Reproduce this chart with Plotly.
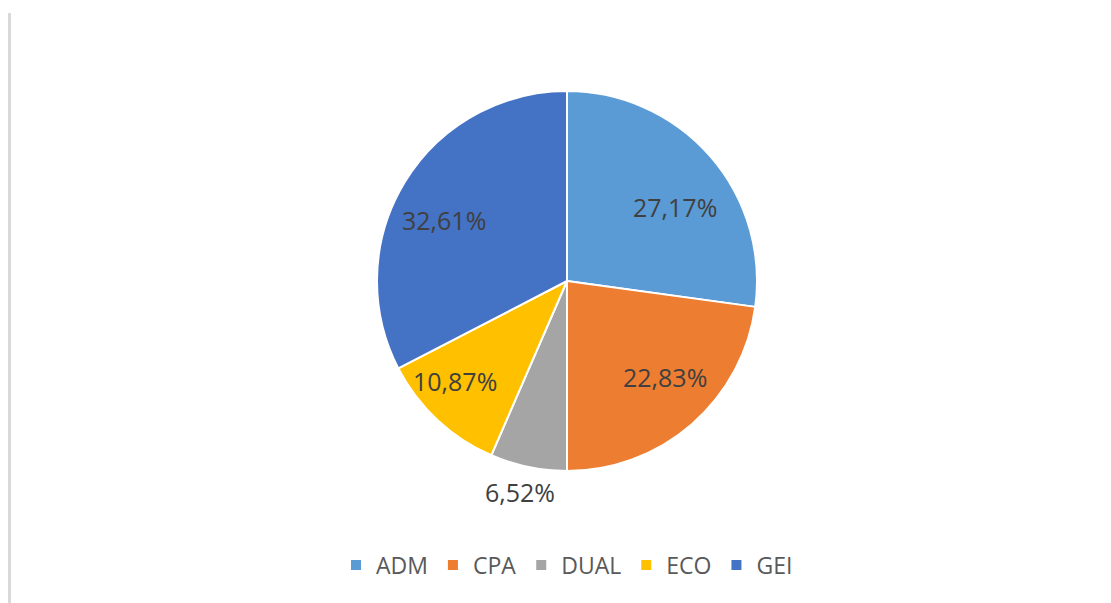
import math
import plotly.graph_objects as go

categories = ["ADM", "CPA", "DUAL", "ECO", "GEI"]
values = [25, 21, 6, 10, 30]
colors = ["#5B9BD5", "#ED7D31", "#A5A5A5", "#FFC000", "#4472C4"]
# label placement style (radius as fraction of pie radius, angle nudge in degrees)
label_radius = [0.69, 0.72, 1.14, 0.79, 0.72]
label_nudge = [6.7, -4.5, 0.8, 5.2, -5.0]

W, H = 1111, 603
OFF = 8  # page body margin
cx, cy, R = 567 - OFF, 281 - OFF, 190
FONT = "Open Sans, Liberation Sans, sans-serif"

fig = go.Figure(go.Pie(
    labels=categories,
    values=values,
    sort=False,
    direction="clockwise",
    rotation=0,
    marker=dict(colors=colors, line=dict(color="white", width=2)),
    textinfo="none",
    hoverinfo="label+percent",
    domain=dict(x=[(cx - R) / W, (cx + R) / W], y=[1 - (cy + R) / H, 1 - (cy - R) / H]),
))

total = sum(values)
annotations = []
cum = 0
for lab, v, rf, nd in zip(categories, values, label_radius, label_nudge):
    mid = (cum + v / 2) / total * 2 * math.pi + math.radians(nd)
    cum += v
    r = R * rf
    px = cx + r * math.sin(mid)
    py = cy - r * math.cos(mid)
    pct = f"{v / total * 100:.2f}".replace(".", ",") + "%"
    annotations.append(dict(
        x=px / W, y=1 - py / H, xref="paper", yref="paper",
        text=pct, showarrow=False, xanchor="center", yanchor="middle",
        font=dict(family=FONT, size=25, color="#404040"),
    ))

fig.update_layout(
    width=W, height=H,
    margin=dict(l=0, r=0, t=0, b=0),
    paper_bgcolor="white",
    separators=",.",
    showlegend=True,
    legend=dict(
        orientation="h",
        x=cx / W, xanchor="center",
        y=1 - (565 - OFF) / H, yanchor="middle",
        font=dict(family=FONT, size=23, color="#595959"),
        itemsizing="constant",
    ),
    annotations=annotations,
    shapes=[dict(type="line", xref="paper", yref="paper",
                 x0=1.5 / W, x1=1.5 / W, y0=0, y1=1 - (13 - OFF) / H,
                 line=dict(color="#d9d9d9", width=3))],
)

fig.write_html("out.html")
